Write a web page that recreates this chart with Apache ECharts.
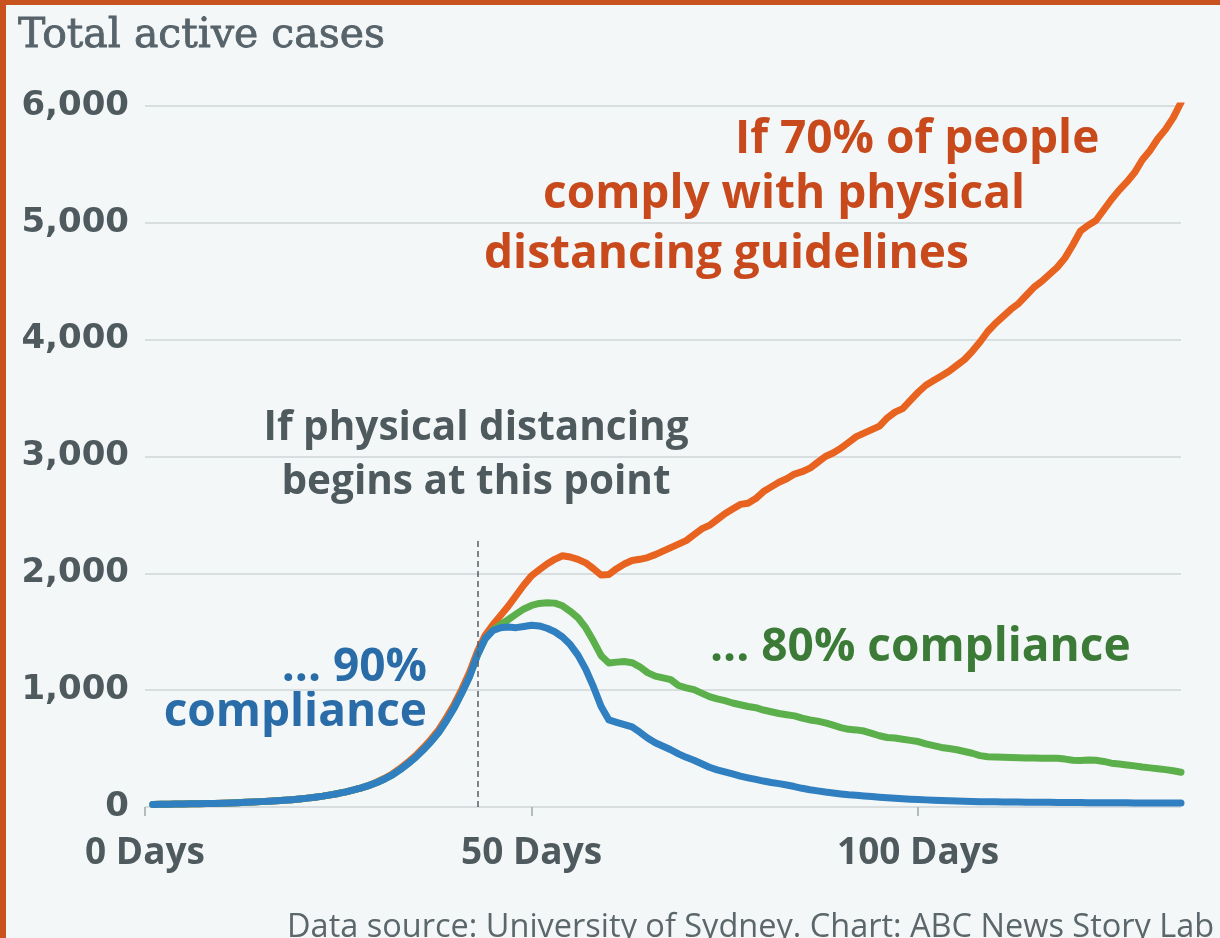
<!DOCTYPE html>
<html>
<head>
<meta charset="utf-8">
<script src="https://cdn.jsdelivr.net/npm/echarts@6/dist/echarts.min.js"></script>
<style>
html,body{margin:0;padding:0;background:#f3f7f8;}
#chart{width:1220px;height:938px;}
</style>
</head>
<body>
<div id="chart"></div>
<script>
// Day index of first data point
const firstDay = 1;
// Total active cases by day, 90% compliance (blue)
const compliance90 = [22,23,24,25,26,27,28,29,31,33,35,37,40,43,46,50,54,58,63,69,76,84,93,104,116,130,146,164,185,210,240,275,320,370,425,490,560,640,740,850,980,1120,1300,1440,1510,
1535,1540,1535,1545,1555,1550,1530,1500,1455,1390,1300,1180,1030,860,745,725,705,685,640,590,550,520,490,455,425,400,370,340,318,300,283,265,250,236,222,210,200,188,175,160,148,138,128,120,112,105,100,95,89,84,79,75,71,67,64,61,58,55,53,51,49,47,46,45,44,43,42,42,41,41,40,40,39,39,38,38,37,37,37,36,36,36,35,35,35,34,34,34,34];
// 80% compliance (green)
const compliance80 = [22,23,24,25,26,27,28,29,31,33,35,37,40,43,46,50,54,58,63,69,76,84,93,104,116,130,146,164,185,210,240,275,320,370,425,490,560,640,740,850,980,1120,1300,1440,1515,
1560,1605,1650,1695,1725,1742,1748,1745,1722,1675,1620,1535,1420,1295,1232,1240,1245,1235,1200,1150,1120,1105,1090,1040,1020,1005,975,945,925,910,890,875,860,850,830,815,800,790,780,760,745,735,720,700,680,665,660,650,630,610,595,590,580,570,560,540,525,510,500,490,475,460,440,430,428,425,423,421,420,419,418,418,417,410,400,398,402,400,390,375,368,360,352,342,335,328,320,310,298];
// 70% compliance (orange)
const compliance70 = [22,23,24,25,26,27,28,29,31,33,35,37,40,43,46,50,54,58,63,69,76,84,93,104,116,130,146,164,185,215,246,283,330,382,440,507,580,662,765,878,1010,1155,1330,1470,1560,
1640,1720,1810,1900,1980,2030,2080,2120,2150,2140,2120,2090,2040,1985,1990,2040,2080,2110,2120,2135,2160,2190,2220,2250,2280,2330,2380,2410,2460,2510,2550,2590,2600,2640,2700,2740,2780,2810,2850,2870,2900,2950,3000,3030,3070,3120,3170,3200,3230,3260,3330,3380,3410,3480,3550,3610,3650,3690,3730,3780,3830,3900,3980,4070,4140,4200,4260,4310,4380,4450,4500,4560,4620,4700,4810,4930,4980,5020,5110,5200,5280,5350,5430,5540,5620,5720,5800,5900,6030];
// Day physical distancing begins, and height of the marker line
const distancingDay = 43;
const distancingLineTop = 2310;
// Axis ticks
const xTicks = [0, 50, 100];
const xMax = 134;
const yMax = 6000;
const yStep = 1000;

const toPairs = arr => arr.map((v, i) => [firstDay + i, v]);

const chart = echarts.init(document.getElementById('chart'), null, {renderer: 'canvas'});

const lineStyleBase = {width: 7, cap: 'round', join: 'round'};
const sansBold = {fontFamily: 'Open Sans', fontWeight: 'bold'};

chart.setOption({
  backgroundColor: '#f3f7f8',
  animation: false,
  grid: {left: 145, right: 39, top: 106, bottom: 131, containLabel: false},
  xAxis: {
    type: 'value', min: 0, max: xMax, interval: 50,
    axisLine: {show: false},
    splitLine: {show: false},
    axisTick: {show: true, length: 9, lineStyle: {color: '#a0a8ab', width: 1.5}, customValues: xTicks},
    axisLabel: {
      customValues: xTicks,
      formatter: v => v + ' Days',
      margin: 28, fontSize: 37, color: '#4e5a5e', fontFamily: 'Open Sans', fontWeight: 'bold'
    }
  },
  yAxis: {
    type: 'value', min: 0, max: yMax, interval: yStep,
    axisLine: {show: false}, axisTick: {show: false},
    splitLine: {lineStyle: {color: '#d8dee0', width: 2}},
    axisLabel: {
      formatter: v => v.toLocaleString('en-US'),
      margin: 16, fontSize: 34, color: '#4e5a5e', fontFamily: 'DejaVu Sans', fontWeight: 'bold'
    }
  },
  series: [
    {type: 'line', name: '70%', data: toPairs(compliance70), showSymbol: false, z: 2,
     lineStyle: Object.assign({color: '#e8631f'}, lineStyleBase)},
    {type: 'line', name: '80%', data: toPairs(compliance80), showSymbol: false, z: 3,
     lineStyle: Object.assign({color: '#5cb04b'}, lineStyleBase)},
    {type: 'line', name: '90%', data: toPairs(compliance90), showSymbol: false, z: 4,
     lineStyle: Object.assign({color: '#2f7fc1'}, lineStyleBase),
     markLine: {
       silent: true, symbol: ['none', 'none'], label: {show: false},
       lineStyle: {color: '#555f62', type: [6, 4], width: 1.5},
       data: [[{coord: [distancingDay, 0]}, {coord: [distancingDay, distancingLineTop]}]]
     }}
  ],
  graphic: [
    {type: 'rect', shape: {x: 0, y: 0, width: 1220, height: 5}, style: {fill: '#c9531e'}, silent: true},
    {type: 'rect', shape: {x: 0, y: 0, width: 6, height: 938}, style: {fill: '#c9531e'}, silent: true},
    {type: 'text', x: 18, y: 36, style: {text: 'Total active cases', fontFamily: 'DejaVu Serif', fontSize: 41, fill: '#57636a', stroke: '#57636a', lineWidth: 0.8, verticalAlign: 'middle'}},
    {type: 'text', x: 735, y: 140, style: Object.assign({text: 'If 70% of people', fontSize: 46, fill: '#c84a1c', verticalAlign: 'middle'}, sansBold)},
    {type: 'text', x: 543, y: 195, style: Object.assign({text: 'comply with physical', fontSize: 46, fill: '#c84a1c', verticalAlign: 'middle'}, sansBold)},
    {type: 'text', x: 484, y: 255, style: Object.assign({text: 'distancing guidelines', fontSize: 46, fill: '#c84a1c', verticalAlign: 'middle'}, sansBold)},
    {type: 'text', x: 476, y: 428, style: Object.assign({text: 'If physical distancing', fontSize: 40.5, fill: '#4e5a5e', align: 'center', verticalAlign: 'middle'}, sansBold)},
    {type: 'text', x: 476, y: 482, style: Object.assign({text: 'begins at this point', fontSize: 40.5, fill: '#4e5a5e', align: 'center', verticalAlign: 'middle'}, sansBold)},
    {type: 'text', x: 427, y: 668, style: Object.assign({text: '... 90%', fontSize: 46, fill: '#2a6ca8', align: 'right', verticalAlign: 'middle'}, sansBold)},
    {type: 'text', x: 427, y: 713, style: Object.assign({text: 'compliance', fontSize: 46, fill: '#2a6ca8', align: 'right', verticalAlign: 'middle'}, sansBold)},
    {type: 'text', x: 710, y: 648, style: Object.assign({text: '... 80% compliance', fontSize: 46, fill: '#3c7b37', verticalAlign: 'middle'}, sansBold)},
    {type: 'text', x: 287, y: 928, style: {text: 'Data source: University of Sydney. Chart: ABC News Story Lab', fontFamily: 'Open Sans', fontSize: 32.5, fill: '#5c676b', verticalAlign: 'middle'}}
  ]
});
</script>
</body>
</html>
